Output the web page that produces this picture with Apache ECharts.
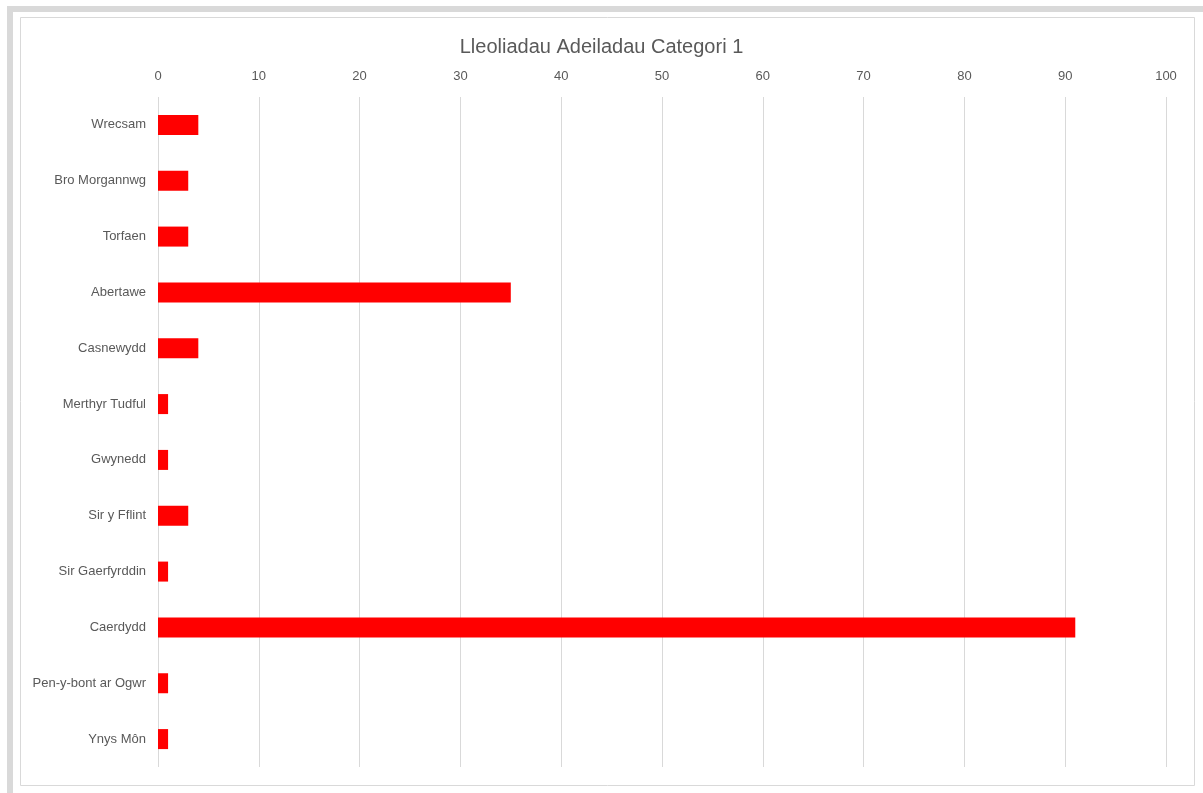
<!DOCTYPE html>
<html>
<head>
<meta charset="utf-8">
<script src="https://cdn.jsdelivr.net/npm/echarts@6/dist/echarts.min.js"></script>
<style>html,body{margin:0;padding:0;background:#fff;}#chart{width:1203px;height:793px;}</style>
</head>
<body>
<div id="chart"></div>
<script>
const categories = ["Wrecsam","Bro Morgannwg","Torfaen","Abertawe","Casnewydd","Merthyr Tudful","Gwynedd","Sir y Fflint","Sir Gaerfyrddin","Caerdydd","Pen-y-bont ar Ogwr","Ynys Môn"];
const values = [4,3,3,35,4,1,1,3,1,91,1,1];
const titleText = "Lleoliadau Adeiladau Categori 1";

const chart = echarts.init(document.getElementById('chart'), null, {renderer:'canvas'});
chart.setOption({
  animation:false,
  backgroundColor:'#fff',
  graphic:[
    {type:'rect', z:-10, shape:{x:7,y:6,width:1196,height:787}, style:{fill:'#d9d9d9'}},
    {type:'rect', z:-9, shape:{x:13,y:12,width:1190,height:781}, style:{fill:'#ffffff'}},
    {type:'rect', z:-8, shape:{x:20.5,y:17.5,width:1174,height:768}, style:{fill:'#ffffff', stroke:'#d9d9d9', lineWidth:1}}
  ],
  title:{text:titleText, left:'center', top:32, textStyle:{fontFamily:'Liberation Sans', fontSize:20, fontWeight:'normal', color:'#595959'}},
  grid:{left:158, right:37, top:97, bottom:26, containLabel:false},
  xAxis:{type:'value', position:'top', min:0, max:100, interval:10,
    axisLine:{show:false}, axisTick:{show:false},
    axisLabel:{margin:14, color:'#595959', fontFamily:'Liberation Sans', fontSize:13},
    splitLine:{lineStyle:{color:'#d9d9d9', width:1}}},
  yAxis:{type:'category', data:categories, inverse:true,
    axisLine:{show:false}, axisTick:{show:false},
    axisLabel:{margin:12, color:'#595959', fontFamily:'Liberation Sans', fontSize:13}},
  series:[{type:'bar', data:values, barWidth:20, itemStyle:{color:'#ff0000'}}]
});
</script>
</body>
</html>
